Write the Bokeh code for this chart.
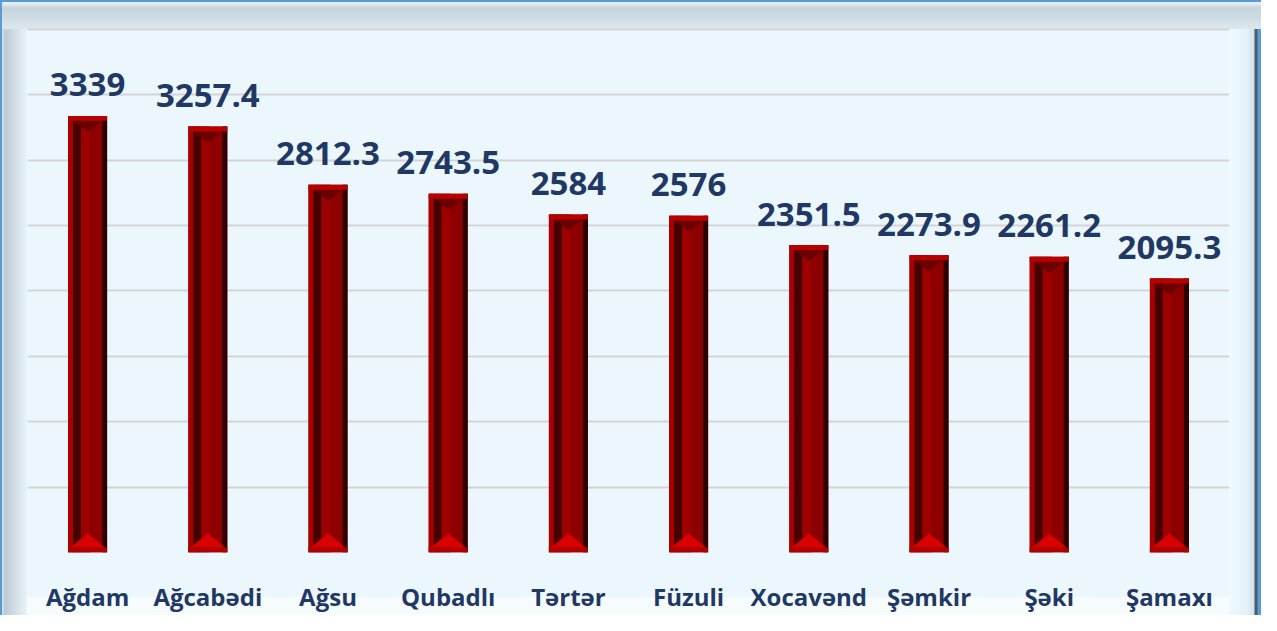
from bokeh.plotting import figure
from bokeh.models import ColumnDataSource, FactorRange, Range1d, Grid, SingleIntervalTicker
from bokeh.core.properties import value
from bokeh.transform import dodge
from bokeh.embed import file_html
from bokeh.resources import INLINE

# ---- data ----
districts = ["Ağdam", "Ağcabədi", "Ağsu", "Qubadlı", "Tərtər", "Füzuli",
             "Xocavənd", "Şəmkir", "Şəki", "Şamaxı"]
values = [3339, 3257.4, 2812.3, 2743.5, 2584, 2576, 2351.5, 2273.9, 2261.2, 2095.3]
labels = ["3339", "3257.4", "2812.3", "2743.5", "2584", "2576",
          "2351.5", "2273.9", "2261.2", "2095.3"]
grid_step = 500
grid_top = 4000

# ---- layout (pixels) ----
W, H = 1261, 615
ML, MR, MT, MB = 27, 32, 22, 60
K = 526 / grid_top                    # pixels per data unit
frame_w = W - ML - MR
frame_h = H - MT - MB
YEND = frame_h / K
px_x = len(districts) / frame_w       # factor units per pixel
px_y = 1 / K                          # data units per pixel

NAVY = "#1F3864"

p = figure(width=W, height=H, x_range=FactorRange(*districts, range_padding=0),
           y_range=Range1d(0, YEND), y_axis_type=None,
           output_backend="svg", toolbar_location=None,
           min_border_left=ML, min_border_right=MR, min_border_top=MT, min_border_bottom=MB)
p.background_fill_alpha = 0
p.border_fill_alpha = 0
p.outline_line_color = None
p.xgrid.grid_line_color = None
p.add_layout(Grid(dimension=1, ticker=SingleIntervalTicker(interval=grid_step),
                  bounds=(0, grid_top),
                  grid_line_color="#D4D4D4", grid_line_width=2))

p.styles = {
    "background": (
        "linear-gradient(to bottom, #E6F1F6 0px, #E6F1F6 3px, #C6D3DC 8px, #D2DEE6 20px, #DCE8EE 29px) top left / 100% 29px no-repeat, "
        "linear-gradient(to right, #E6F1F6 0px, #BDCBD5 5px, #D0DCE4 14px, #E8F3F8 27px) top left / 27px 100% no-repeat, "
        "linear-gradient(to right, #EFFAFF 0px, #E4F1F8 18px, #D2E0E8 25px, #4E5A66 26px, #4E5A66 28px, #5B9BD5 29px) top right / 32px 100% no-repeat, "
        "linear-gradient(#F6FBFE, #F6FBFE) bottom left / 100% 18px no-repeat, "
        "#EBF7FD"),
    "box-shadow": "inset 2px 2px 0 0 #5B9BD5",
}

src = ColumnDataSource(dict(x=districts, top=values, lab=labels))

bw = 39 * px_x
p.vbar(x="x", top="top", bottom=0, width=bw, source=src, fill_color="#8C0000", line_color=None)
strips = [(0, 5, "#A80000"), (5, 13, "#450000"), (13, 22, "#9E0000"), (34, 39, "#2E0000")]
for a, b, col in strips:
    off = (-19.5 + (a + b) / 2) * px_x
    p.vbar(x=dodge("x", off, range=p.x_range), top="top", bottom=0, width=(b - a) * px_x,
           source=src, fill_color=col, line_color=None)

cap_xs, cap_ys, tri_xs, tri_ys, itri_xs, itri_ys, bs_xs, bs_ys = [], [], [], [], [], [], [], []
for i, v in enumerate(values):
    c = i + 0.5
    l, r = c - 19.5 * px_x, c + 19.5 * px_x
    bs_xs.append([l, r, r, l]); bs_ys.append([0, 0, 5 * px_y, 5 * px_y])
    tri_xs.append([l + 2 * px_x, r - 2 * px_x, c]); tri_ys.append([5 * px_y, 5 * px_y, 19 * px_y])
    itri_xs.append([l + 5 * px_x, r - 5 * px_x, c])
    itri_ys.append([v - 5 * px_y, v - 5 * px_y, v - 16 * px_y])
    cap_xs.append([l, r, r, l]); cap_ys.append([v, v, v - 5 * px_y, v - 5 * px_y])
p.patches(itri_xs, itri_ys, fill_color="#6A0000", line_color=None)
p.patches(cap_xs, cap_ys, fill_color="#B80000", line_color=None)
p.patches(bs_xs, bs_ys, fill_color="#B00000", line_color=None)
p.patches(tri_xs, tri_ys, fill_color="#D80000", line_color=None)

p.text(x="x", y="top", text="lab", source=src, text_align="center",
       text_baseline="alphabetic", y_offset=-31, text_color=NAVY,
       text_font=value("Open Sans"), text_font_style="bold", text_font_size="33px")

ax = p.xaxis[0]
ax.axis_line_color = None
ax.major_tick_line_color = None
ax.minor_tick_line_color = None
ax.major_label_text_font = "Open Sans"
ax.major_label_text_font_style = "bold"
ax.major_label_text_font_size = "24px"
ax.major_label_text_color = NAVY
ax.major_label_standoff = 21

open("out.html", "w").write(file_html(p, INLINE))
